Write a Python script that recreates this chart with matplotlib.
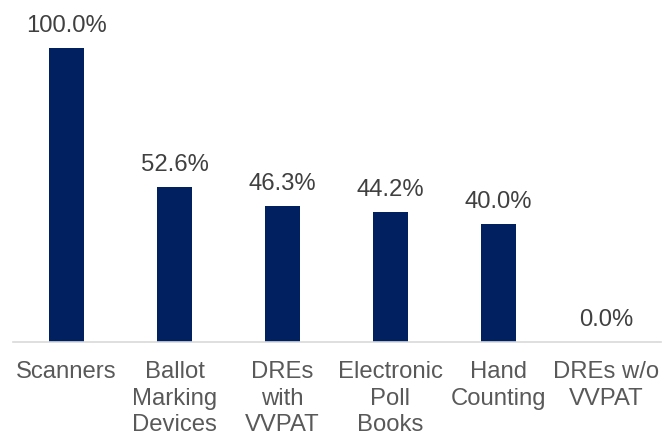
import matplotlib.pyplot as plt

categories = ['Scanners', 'Ballot\nMarking\nDevices', 'DREs\nwith\nVVPAT',
              'Electronic\nPoll\nBooks', 'Hand\nCounting', 'DREs w/o\nVVPAT']
values = [100.0, 52.6, 46.3, 44.2, 40.0, 0.0]

plt.rcParams['font.family'] = ['Liberation Sans', 'DejaVu Sans']

fig = plt.figure(figsize=(6.72, 4.36), dpi=100)
ax = fig.add_axes([12.5/672, 94/436, 648/672, 342/436])

x = range(len(categories))
bars = ax.bar(x, values, width=0.33, color='#002060')
for b, v in zip(bars, values):
    ax.text(b.get_x() + b.get_width()/2, v + 3.8, '%.1f%%' % v,
            ha='center', va='bottom', fontsize=17.2, color='#404040')

ax.set_xlim(-0.5, len(categories) - 0.5)
ax.set_ylim(0, 116.3)
ax.set_xticks(list(x))
ax.set_xticklabels(categories, fontsize=17.2, color='#595959', linespacing=1.26)
ax.tick_params(axis='x', length=0, pad=14)
ax.set_yticks([])
for s in ['top', 'right', 'left']:
    ax.spines[s].set_visible(False)
ax.spines['bottom'].set_color('#d9d9d9')
ax.spines['bottom'].set_linewidth(1.2)

fig.savefig('out.png', dpi=100)
